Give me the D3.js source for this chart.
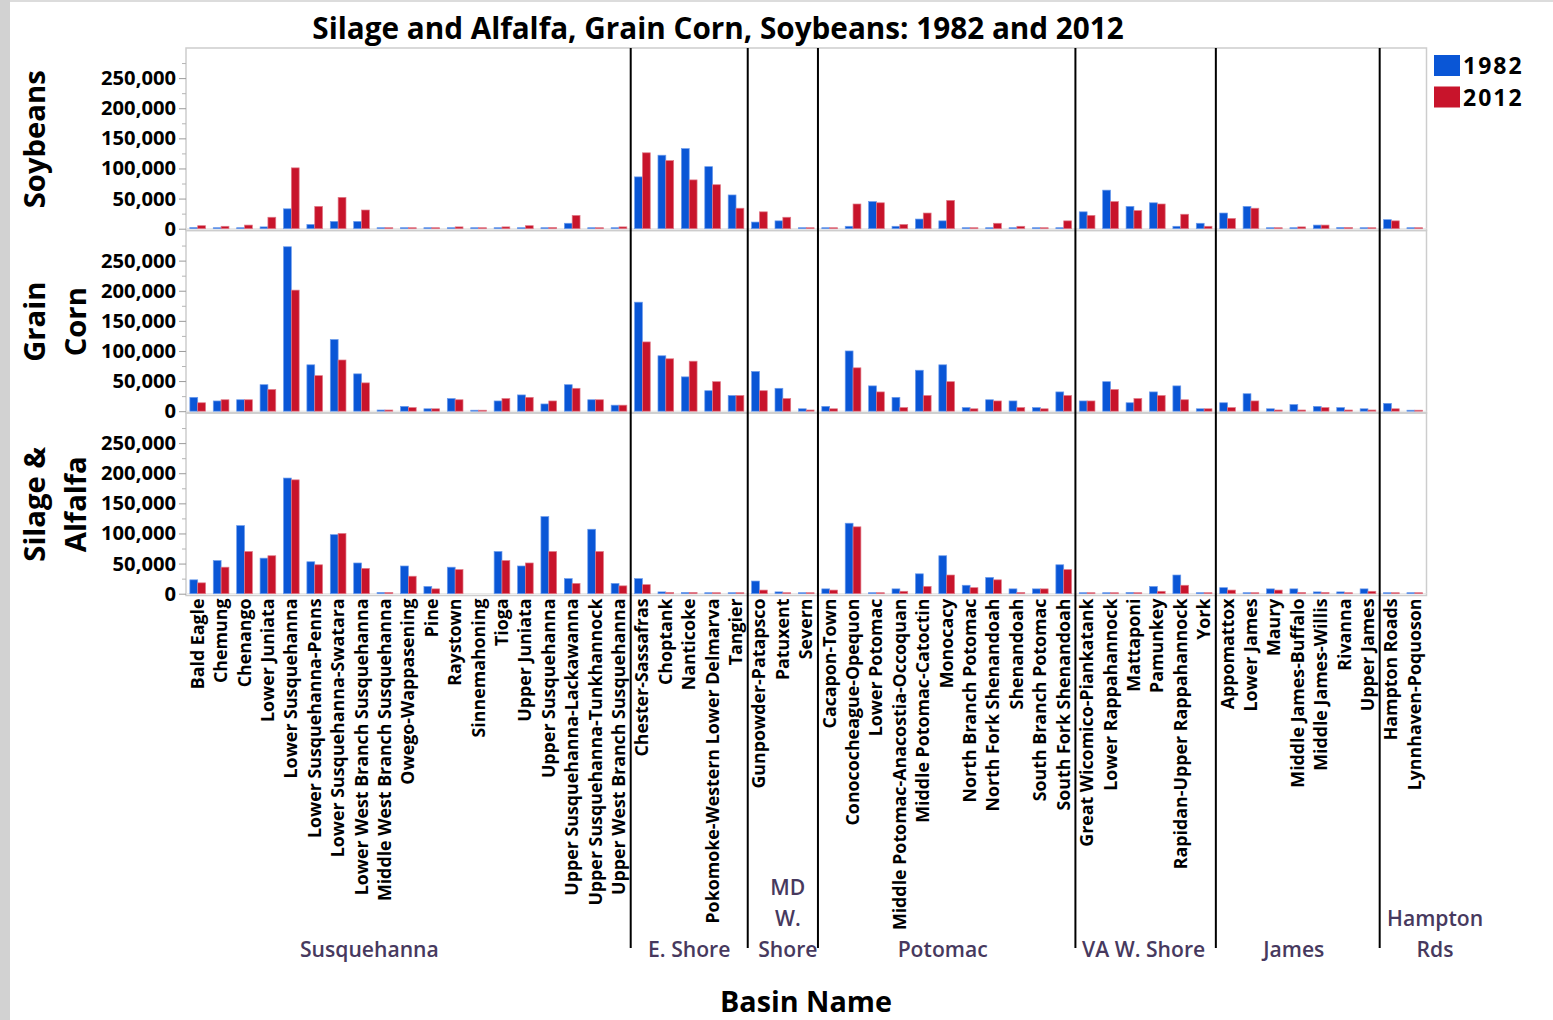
<!DOCTYPE html>
<html><head><meta charset="utf-8">
<script src="https://cdn.jsdelivr.net/npm/d3@7"></script>
<style>
body{margin:0;background:#fff;}
svg{display:block;}
text{font-family:"Open Sans","Noto Sans",sans-serif;}
</style>
</head><body>
<svg id="chart" width="1553" height="1020"></svg>
<script>
// ---------------- DATA ----------------
const titleText = "Silage and Alfalfa, Grain Corn, Soybeans: 1982 and 2012";
const xAxisTitle = "Basin Name";
const years = ["1982", "2012"];
const categories = [
  "Bald Eagle","Chemung","Chenango","Lower Juniata","Lower Susquehanna","Lower Susquehanna-Penns",
  "Lower Susquehanna-Swatara","Lower West Branch Susquehanna","Middle West Branch Susquehanna",
  "Owego-Wappasening","Pine","Raystown","Sinnemahoning","Tioga","Upper Juniata","Upper Susquehanna",
  "Upper Susquehanna-Lackawanna","Upper Susquehanna-Tunkhannock","Upper West Branch Susquehanna",
  "Chester-Sassafras","Choptank","Nanticoke","Pokomoke-Western Lower Delmarva","Tangier",
  "Gunpowder-Patapsco","Patuxent","Severn",
  "Cacapon-Town","Conococheague-Opequon","Lower Potomac","Middle Potomac-Anacostia-Occoquan",
  "Middle Potomac-Catoctin","Monocacy","North Branch Potomac","North Fork Shenandoah","Shenandoah",
  "South Branch Potomac","South Fork Shenandoah",
  "Great Wicomico-Piankatank","Lower Rappahannock","Mattaponi","Pamunkey","Rapidan-Upper Rappahannock","York",
  "Appomattox","Lower James","Maury","Middle James-Buffalo","Middle James-Willis","Rivanna","Upper James",
  "Hampton Roads","Lynnhaven-Poquoson"
];
const groupNames = ["Susquehanna","E. Shore","MD W. Shore","Potomac","VA W. Shore","James","Hampton Rds"];
const groupLabelLines = [["Susquehanna"],["E. Shore"],["MD","W.","Shore"],["Potomac"],["VA W. Shore"],["James"],["Hampton","Rds"]];
const groupSizes = [19,5,3,11,6,7,2];

const panelNames = ["Soybeans","Grain Corn","Silage & Alfalfa"];
const panelLabelLines = [["Soybeans"],["Grain","Corn"],["Silage &","Alfalfa"]];

const soybeans1982 = [2000,500,1000,3000,33000,7000,12000,12000,500,500,500,500,500,500,500,500,9000,500,500,
  86000,122000,133000,103000,56000, 11000,13000,1000,
  500,4000,45000,4000,16000,13000,500,500,500,500,500,
  28000,64000,37000,43000,4000,9000, 26000,37000,500,1000,6000,2000,500, 15000,1000];
const soybeans2012 = [5000,4000,6000,19000,101000,37000,52000,31000,500,500,1000,3000,500,3000,5000,2000,22000,1000,3000,
  126000,113000,81000,73000,34000, 28000,19000,1000,
  500,41000,43000,7000,26000,47000,500,9000,4000,500,13000,
  22000,45000,30000,41000,24000,4000, 17000,34000,1000,3000,6000,2000,1000, 13000,500];
const grainCorn1982 = [23000,17000,19000,44000,273000,77000,119000,62000,2000,8000,4000,21000,500,17000,27000,12000,44000,19000,10000,
  181000,92000,57000,34000,26000, 66000,38000,4000,
  8000,100000,42000,23000,68000,77000,6000,19000,17000,6000,32000,
  17000,49000,14000,32000,42000,4000, 14000,29000,4000,11000,8000,6000,4000, 13000,500];
const grainCorn2012 = [14000,19000,19000,36000,201000,59000,85000,47000,2000,6000,4000,19000,500,21000,23000,17000,38000,19000,10000,
  115000,87000,83000,49000,26000, 34000,21000,2000,
  4000,72000,32000,6000,26000,49000,4000,17000,6000,4000,26000,
  17000,36000,21000,26000,19000,4000, 6000,17000,2000,2000,6000,2000,2000, 4000,500];
const silage1982 = [23000,55000,113000,59000,192000,53000,98000,51000,2000,46000,12000,44000,0,70000,46000,128000,25000,107000,17000,
  25000,3000,2000,500,500, 21000,3000,500,
  8000,117000,500,8000,33000,63000,14000,27000,8000,8000,48000,
  500,500,2000,12000,31000,500, 10000,500,8000,8000,3000,3000,8000, 500,500];
const silage2012 = [18000,44000,70000,63000,189000,48000,100000,42000,2000,29000,8000,40000,0,55000,51000,70000,17000,70000,13000,
  15000,2000,2000,1000,500, 6000,500,500,
  6000,111000,500,4000,12000,31000,10000,23000,2000,8000,40000,
  500,500,500,4000,14000,500, 6000,500,6000,2000,2000,500,4000, 500,500];

const panelData = [[soybeans1982, soybeans2012],[grainCorn1982, grainCorn2012],[silage1982, silage2012]];
const yTicks = [0,50000,100000,150000,200000,250000];
const yMinorTicks = [25000,75000,125000,175000,225000,275000];

// ---------------- LAYOUT ----------------
const W = 1553, H = 1020;
const plotLeft = 186, plotRight = 1426.5, plotTop = 48, panelH = 182.5;
const colors = {"1982":"#0a56d6","2012":"#c8142b"};
const strokes = {"1982":"#6d9cec","2012":"#e07a88"};
const groupLabelColor = "#47395e";
const groupLabelDx = [-39,0,5,-4,-2,-4,32];

const svg = d3.select("#chart");
svg.append("rect").attr("width",W).attr("height",H).attr("fill","#fff");
svg.append("rect").attr("x",0).attr("y",0).attr("width",10).attr("height",H).attr("fill","#d2d2d2");
svg.append("rect").attr("x",10).attr("y",0).attr("width",W-10).attr("height",2).attr("fill","#dcdcdc");

function fit(sel, target){
  const w = sel.node().getComputedTextLength();
  const fs = parseFloat(sel.attr("font-size"));
  sel.attr("font-size", fs*target/w);
  return fs*target/w;
}

const x = d3.scaleBand().domain(categories).range([plotLeft, plotRight]).paddingInner(0.33).paddingOuter(0.165);
const xs = d3.scaleBand().domain(years).range([0, x.bandwidth()]);

// Title
const t = svg.append("text").attr("x",718).attr("y",39).attr("text-anchor","middle")
  .attr("font-weight",700).attr("font-size",27).attr("fill","#000").text(titleText);
fit(t, 812);

// Panels
panelNames.forEach((pn, pi) => {
  const top = plotTop + pi*panelH;
  const y = d3.scaleLinear().domain([-3000, 300000]).range([top+panelH, top]);
  const g = svg.append("g");
  g.append("rect").attr("x",plotLeft).attr("y",top).attr("width",plotRight-plotLeft).attr("height",panelH)
    .attr("fill","none").attr("stroke","#cdcdcd").attr("stroke-width",1.5);
  g.append("line").attr("x1",plotLeft).attr("x2",plotRight).attr("y1",y(0)).attr("y2",y(0))
    .attr("stroke","#e3e3e3").attr("stroke-width",1);
  const ax = d3.axisLeft(y).tickValues(yTicks).tickSize(7).tickFormat(d3.format(","));
  const axG = g.append("g").attr("class","yaxis").attr("transform",`translate(${plotLeft},0)`).call(ax);
  axG.select(".domain").remove();
  axG.selectAll(".tick line").attr("stroke","#9a9a9a");
  axG.selectAll(".tick text").attr("font-family","'Open Sans',sans-serif").attr("font-weight",700)
    .attr("font-size",17).attr("fill","#000").attr("x",-10);
  const minor = d3.axisLeft(y).tickValues(yMinorTicks).tickSize(4).tickFormat("");
  const mG = g.append("g").attr("transform",`translate(${plotLeft},0)`).call(minor);
  mG.select(".domain").remove();
  mG.selectAll(".tick line").attr("stroke","#b5b5b5");
  years.forEach((yr, si) => {
    const vals = panelData[pi][si];
    g.selectAll(null).data(categories.map((c,i)=>({c, v: vals[i]})).filter(d=>d.v>0))
      .enter().append("rect")
      .attr("x", d => x(d.c) + xs(yr))
      .attr("width", xs.bandwidth())
      .attr("y", d => Math.min(y(d.v), y(0)-1))
      .attr("height", d => Math.max(1, y(0)-y(d.v)))
      .attr("fill", colors[yr])
      .attr("stroke", strokes[yr]).attr("stroke-width",0.7);
  });
  const cy = top + panelH/2;
  const lines = panelLabelLines[pi];
  lines.forEach((ln, li) => {
    const lx = 45 + li*41;
    g.append("text").attr("class","plabel").attr("transform",`translate(${lx},${cy}) rotate(-90)`)
      .attr("text-anchor","middle").attr("font-weight",700).attr("font-size",26).attr("fill","#000").text(ln);
  });
});

// Tick label sizing
const tickSel = svg.selectAll(".yaxis .tick text").filter(function(){return d3.select(this).text()==="250,000";});
const tfs = fit(d3.select(tickSel.node()), 75);
svg.selectAll(".yaxis .tick text").attr("font-size", tfs);

// panel label fit
const soyLbl = svg.selectAll(".plabel").filter(function(){return d3.select(this).text()==="Soybeans";});
const pfs = fit(d3.select(soyLbl.node()), 138);
svg.selectAll(".plabel").attr("font-size", pfs);

// X labels
const xl = svg.append("g");
xl.selectAll("text").data(categories).enter().append("text")
  .attr("transform", d => `translate(${x(d)+x.bandwidth()/2+6},${plotTop+3*panelH+3}) rotate(-90)`)
  .attr("text-anchor","end").attr("font-weight",700).attr("font-size",17).attr("fill","#000").text(d=>d);
const refLbl = xl.selectAll("text").filter(d => d==="Middle Potomac-Anacostia-Occoquan");
const xfs = fit(d3.select(refLbl.node()), 332);
xl.selectAll("text").attr("font-size", xfs);

// Group separators and labels
let idx = 0;
const half = x.step()*x.paddingInner()/2;
groupSizes.forEach((n, gi) => {
  const startX = x(categories[idx]) - half;
  const endX = x(categories[idx+n-1]) + x.bandwidth() + half;
  if (gi > 0) {
    svg.append("line").attr("x1",startX).attr("x2",startX).attr("y1",plotTop).attr("y2",948)
      .attr("stroke","#000").attr("stroke-width",2);
  }
  const cx = (startX+endX)/2 + groupLabelDx[gi];
  const lines = groupLabelLines[gi];
  lines.forEach((ln, li) => {
    svg.append("text").attr("class","glabel").attr("x",cx).attr("y",957 - (lines.length-1-li)*31)
      .attr("text-anchor","middle").attr("font-weight",600).attr("font-size",20)
      .attr("fill",groupLabelColor).text(ln);
  });
  idx += n;
});
const susq = svg.selectAll(".glabel").filter(function(){return d3.select(this).text()==="Susquehanna";});
const gfs = fit(d3.select(susq.node()), 139);
svg.selectAll(".glabel").attr("font-size", gfs);

// X axis title
const xt = svg.append("text").attr("x",806).attr("y",1012).attr("text-anchor","middle")
  .attr("font-weight",700).attr("font-size",26).attr("fill","#000").text(xAxisTitle);
fit(xt, 172);

// Legend
years.forEach((yr, i) => {
  const ly = 55 + i*31.5;
  svg.append("rect").attr("x",1434).attr("y",ly).attr("width",26).attr("height",21).attr("fill",colors[yr]);
  svg.append("text").attr("x",1463).attr("y",ly+19).attr("font-weight",700).attr("font-size",23)
    .attr("letter-spacing",2).attr("fill","#000").text(yr);
});
</script>
</body></html>
